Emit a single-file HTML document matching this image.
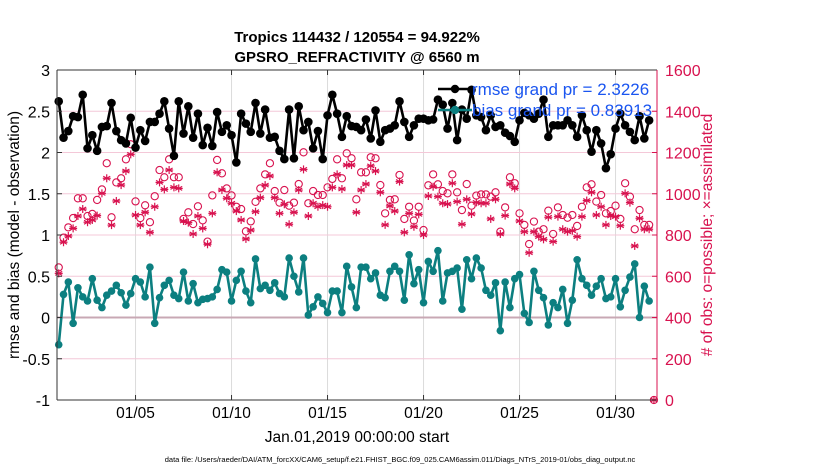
<!DOCTYPE html>
<html><head><meta charset="utf-8"><style>
html,body{margin:0;padding:0;background:#fff;}
svg{display:block;font-family:"Liberation Sans",sans-serif;}
</style></head><body>
<svg id="chart" width="830" height="470" viewBox="0 0 830 470" xmlns="http://www.w3.org/2000/svg">
<text x="357" y="42" text-anchor="middle" font-size="15" font-weight="bold">Tropics 114432 / 120554 = 94.922%</text>
<text x="357" y="62" text-anchor="middle" font-size="15" font-weight="bold">GPSRO_REFRACTIVITY @ 6560 m</text>
<g id="grid"></g>
<g id="series"></g>
<g id="axes"></g>
<text transform="translate(19,235) rotate(-90)" text-anchor="middle" font-size="15.5">rmse and bias (model - observation)</text>
<text transform="translate(712,235) rotate(-90)" text-anchor="middle" font-size="15.5" fill="#d8124f"># of obs: o=possible; &#215;=assimilated</text>
<text x="357" y="442" text-anchor="middle" font-size="15.5">Jan.01,2019 00:00:00 start</text>
<text x="400" y="462" text-anchor="middle" font-size="7.5">data file: /Users/raeder/DAI/ATM_forcXX/CAM6_setup/f.e21.FHIST_BGC.f09_025.CAM6assim.011/Diags_NTrS_2019-01/obs_diag_output.nc</text>
<g id="legend"></g>
</svg>
<script>
const rmse=[2.62,2.18,2.26,2.44,2.43,2.70,2.05,2.21,2.02,2.31,2.32,2.60,2.26,2.15,2.11,2.42,2.06,2.27,2.14,2.37,2.37,2.47,2.62,2.29,1.96,2.62,2.23,2.56,2.18,2.47,2.09,2.30,2.08,2.49,2.25,2.33,2.21,1.88,2.47,2.35,2.25,2.60,
2.23,2.52,2.18,2.19,2.02,1.92,2.52,1.93,2.56,2.27,2.37,2.05,2.26,1.92,2.45,2.70,2.47,2.19,2.44,2.32,2.31,2.27,2.40,2.17,2.51,2.13,2.27,2.29,2.33,2.62,2.37,2.19,2.33,2.41,2.41,2.39,2.40,2.64,2.58,2.29,2.60,2.15,
2.52,2.41,2.76,2.45,2.43,2.27,2.45,2.31,2.33,2.24,2.20,2.13,2.39,2.48,2.45,2.41,2.47,2.64,2.19,2.33,2.33,2.33,2.39,2.33,2.19,2.45,2.27,2.01,2.27,2.11,1.81,1.98,2.29,2.47,2.33,2.25,2.15,2.44,2.17,2.39];
const bias=[-0.33,0.28,0.43,-0.07,0.36,0.25,0.20,0.47,0.21,0.12,0.27,0.32,0.39,0.30,0.15,0.29,0.47,0.43,0.25,0.61,-0.07,0.24,0.39,0.45,0.27,0.23,0.55,0.20,0.41,0.18,0.22,0.23,0.25,0.34,0.58,0.55,0.20,0.45,0.56,0.32,0.18,0.71,
0.35,0.39,0.33,0.42,0.29,0.25,0.72,0.50,0.31,0.72,0.03,0.13,0.25,0.17,0.06,0.32,0.32,0.06,0.62,0.37,0.12,0.61,0.61,0.47,0.54,0.27,0.24,0.56,0.62,0.56,0.21,0.76,0.41,0.58,0.18,0.68,0.56,0.81,0.20,0.54,0.56,0.60,
0.10,0.70,0.47,0.72,0.60,0.33,0.27,0.42,-0.16,0.43,0.12,0.47,0.52,0.05,-0.06,0.56,0.33,0.24,-0.09,0.18,0.12,0.34,-0.07,0.21,0.70,0.47,0.39,0.27,0.38,0.47,0.23,0.25,0.47,0.13,0.33,0.49,0.65,0.00,0.38,0.20];
const nPossible=[643,787,837,882,978,978,892,902,970,1021,1148,886,1055,1075,1167,1240,963,882,944,862,988,1115,1080,1167,1080,1080,878,910,853,939,871,768,992,1164,1099,1026,992,937,926,818,866,961,
1026,1094,1148,1013,957,1018,942,957,1047,1201,954,1013,994,994,1031,1072,1167,1075,1196,1172,973,1104,1104,1177,1172,1042,905,970,973,1091,878,937,870,937,824,1041,1094,1046,1013,1002,1094,1007,
921,1047,942,991,997,997,986,1007,816,934,1080,1051,905,849,756,865,816,828,918,805,934,897,884,897,844,937,1031,1046,962,994,905,916,942,878,1051,986,828,921,849,849,0];
const nAssim=[614,765,795,832,892,926,862,873,894,1002,1075,848,965,1042,1110,1191,897,848,910,813,937,1055,1021,1115,1031,1026,868,860,805,892,832,755,905,1104,1018,978,954,916,873,781,824,913,
981,1042,1086,981,905,949,852,910,1018,1118,892,954,937,945,937,1031,1094,1023,1139,1139,910,1018,1047,1135,1110,1007,849,941,916,1059,813,905,840,900,800,989,1034,986,954,950,1051,962,
852,973,902,958,954,954,878,973,805,894,1047,1026,868,816,714,816,792,779,886,768,889,828,816,821,792,889,967,1007,897,937,849,892,889,845,1002,957,747,881,828,828,0];
const leftTicks=[-1,-0.5,0,0.5,1,1.5,2,2.5,3];
const leftTickLabels=["-1","-0.5","0","0.5","1","1.5","2","2.5","3"];
const rightTicks=[0,200,400,600,800,1000,1200,1400,1600];
const xTickDays=[4,9,14,19,24,29];
const xTickLabels=["01/05","01/10","01/15","01/20","01/25","01/30"];
const legendLabels=["rmse grand pr = 2.3226","bias grand pr = 0.83913"];

const X0=57,X1=657,Y0=70,Y1=400,DMIN=-0.09,DMAX=31.16;
const RED="#d8124f",TEAL="#0c7f80";
const NS="http://www.w3.org/2000/svg";
function xs(d){return X0+(d-DMIN)/(DMAX-DMIN)*(X1-X0);}
function yl(v){return Y0+(3-v)/4*(Y1-Y0);}
function yr(n){return Y0+(1600-n)/1600*(Y1-Y0);}
function dayOf(i){return i*0.25;}
function mk(tag,attrs,parent){const e=document.createElementNS(NS,tag);for(const k in attrs)e.setAttribute(k,attrs[k]);parent.appendChild(e);return e;}
const grid=document.getElementById('grid'),axes=document.getElementById('axes'),ser=document.getElementById('series'),leg=document.getElementById('legend');
mk('rect',{x:X0,y:Y0,width:X1-X0,height:Y1-Y0,fill:'#fff'},grid);
xTickDays.forEach((d,k)=>{
  const l=mk('line',{x1:xs(d),x2:xs(d),y1:Y0,y2:Y1,stroke:'#dcdcdc','stroke-width':1},grid);
  
  
  const t=mk('text',{x:xs(d),y:418,'text-anchor':'middle','font-size':15.5},axes);
  t.textContent=xTickLabels[k];
  
  
  mk('line',{x1:xs(d),x2:xs(d),y1:Y1,y2:Y1-5,stroke:'#333'},axes);
  mk('line',{x1:xs(d),x2:xs(d),y1:Y0,y2:Y0+5,stroke:'#333'},axes);
});
leftTicks.forEach((v,k)=>{
  if(v>-1&&v<3){
    const l=mk('line',{x1:X0,x2:X1,y1:yl(v),y2:yl(v),stroke:v===0?'#c8a8b4':'#f4c8d8','stroke-width':v===0?2:1},grid);
    
    
  }
  const t=mk('text',{x:X0-7,y:yl(v)+6,'text-anchor':'end','font-size':16},axes);
  t.textContent=leftTickLabels[k];
  
  
  mk('line',{x1:X0,x2:X0+5,y1:yl(v),y2:yl(v),stroke:'#333'},axes);
});
rightTicks.forEach(n=>{
  const t=mk('text',{x:X1+8,y:yr(n)+6,'text-anchor':'start','font-size':16,fill:RED},axes);
  t.textContent=String(n);
  
  
  mk('line',{x1:X1,x2:X1-5,y1:yr(n),y2:yr(n),stroke:RED},axes);
});
mk('line',{x1:X0,x2:X1,y1:Y0,y2:Y0,stroke:'#333'},axes);
mk('line',{x1:X0,x2:X1,y1:Y1,y2:Y1,stroke:'#333'},axes);
mk('line',{x1:X0,x2:X0,y1:Y0,y2:Y1,stroke:'#333'},axes);
mk('line',{x1:X1,x2:X1,y1:Y0,y2:Y1,stroke:RED},axes);

function star(cx,cy,r,parent){
  const g=mk('g',{stroke:RED,'stroke-width':1.2},parent);
  for(let a=0;a<3;a++){const t=a*Math.PI/3+Math.PI/2;mk('line',{x1:cx-r*Math.cos(t),y1:cy-r*Math.sin(t),x2:cx+r*Math.cos(t),y2:cy+r*Math.sin(t)},g);}
  mk('line',{x1:cx-r,x2:cx+r,y1:cy,y2:cy},g);
  return g;
}
nPossible.forEach((n,i)=>{
  const c=mk('circle',{cx:xs(dayOf(i)),cy:yr(n),r:3.6,fill:'none',stroke:RED,'stroke-width':1.1},ser);
  
  
});
nAssim.forEach((n,i)=>{
  const g=star(xs(dayOf(i)),yr(n),4,ser);
  
  
});
function lineSeries(vals,color,name,r){
  const p=mk('polyline',{points:vals.map((v,i)=>xs(dayOf(i))+','+yl(v)).join(' '),fill:'none',stroke:color,'stroke-width':2.6,'stroke-linejoin':'round'},ser);
  
  
  vals.forEach((v,i)=>{
    const c=mk('circle',{cx:xs(dayOf(i)),cy:yl(v),r:r,fill:color},ser);
    
    
  });
}
lineSeries(bias,TEAL,'bias',3.8);
lineSeries(rmse,'#000','rmse',4.3);

[['#000',89],[TEAL,110]].forEach((s,k)=>{
  const l=mk('line',{x1:438,x2:472,y1:s[1],y2:s[1],stroke:s[0],'stroke-width':2.6},leg);
  
  
  mk('circle',{cx:455,cy:s[1],r:4.2,fill:s[0]},leg);
  const t=mk('text',{x:472,y:s[1]+6,'font-size':17,fill:'#1a55f0'},leg);
  t.textContent=legendLabels[k];
  
  
});
</script>
</body></html>
